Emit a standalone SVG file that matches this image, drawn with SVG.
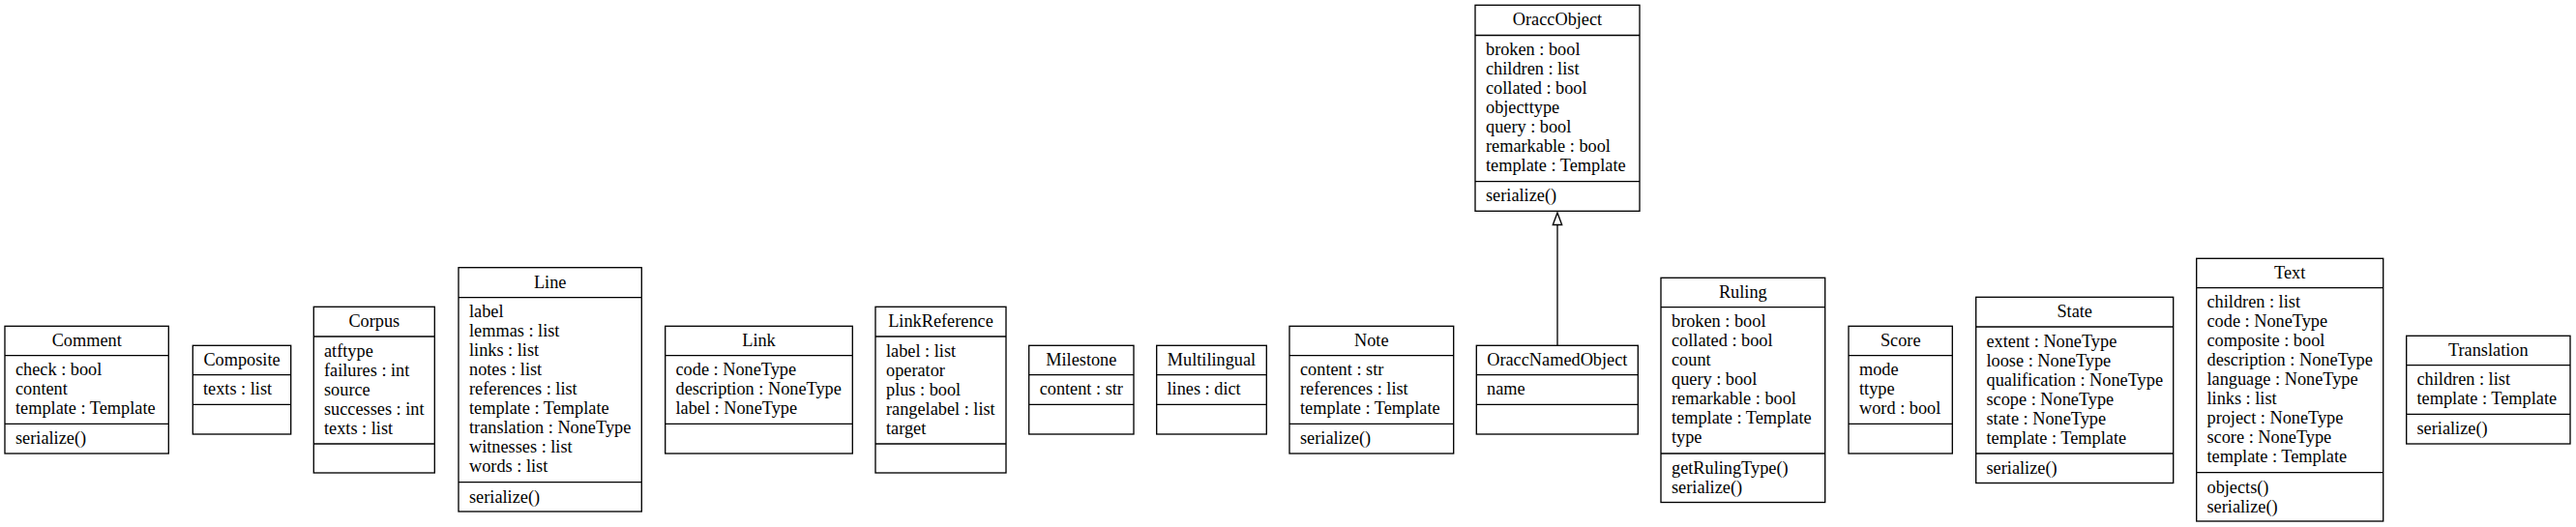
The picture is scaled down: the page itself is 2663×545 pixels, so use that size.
<svg xmlns="http://www.w3.org/2000/svg" width="2663" height="545" viewBox="0 0 2663 545">
<style>
.b{fill:#fff;stroke:#000;stroke-width:1.33}
.d{stroke:#000;stroke-width:1.33}
text{font-family:"Liberation Serif","Times New Roman",serif;font-size:18.3px;fill:#000}
.t{text-anchor:middle}
</style>
<rect width="2663" height="545" fill="#fff"/>
<g id="connectors">
<line class="d" x1="1610" y1="357.3" x2="1610" y2="232.5"/>
<path d="M1610,220 L1614.7,232.5 L1605.3,232.5 Z" fill="#fff" stroke="#000" stroke-width="1.33"/>
</g>
<g id="Comment">
<rect class="b" x="5" y="337.3" width="169.3" height="131.7"/>
<line class="d" x1="5" y1="367.7" x2="174.3" y2="367.7"/><line class="d" x1="5" y1="438.3" x2="174.3" y2="438.3"/>
<text class="t" x="89.7" y="358.3">Comment</text>
<text x="16" y="388.3">check : bool</text><text x="16" y="408.3">content</text><text x="16" y="428.3">template : Template</text>
<text x="16" y="459.1">serialize()</text>
</g>
<g id="Composite">
<rect class="b" x="199.3" y="357.3" width="101.4" height="91.7"/>
<line class="d" x1="199.3" y1="387.7" x2="300.7" y2="387.7"/><line class="d" x1="199.3" y1="418.3" x2="300.7" y2="418.3"/>
<text class="t" x="250" y="378.3">Composite</text>
<text x="210" y="408.3">texts : list</text>
</g>
<g id="Corpus">
<rect class="b" x="324.3" y="317.3" width="125" height="171.7"/>
<line class="d" x1="324.3" y1="348" x2="449.3" y2="348"/><line class="d" x1="324.3" y1="459" x2="449.3" y2="459"/>
<text class="t" x="386.8" y="338.3">Corpus</text>
<text x="335" y="368.6">atftype</text><text x="335" y="388.6">failures : int</text><text x="335" y="408.6">source</text><text x="335" y="428.6">successes : int</text><text x="335" y="448.6">texts : list</text>
</g>
<g id="Line">
<rect class="b" x="474" y="276.7" width="189.3" height="252.3"/>
<line class="d" x1="474" y1="307.7" x2="663.3" y2="307.7"/><line class="d" x1="474" y1="498.7" x2="663.3" y2="498.7"/>
<text class="t" x="568.7" y="297.7">Line</text>
<text x="485" y="328.3">label</text><text x="485" y="348.3">lemmas : list</text><text x="485" y="368.3">links : list</text><text x="485" y="388.3">notes : list</text><text x="485" y="408.3">references : list</text><text x="485" y="428.3">template : Template</text><text x="485" y="448.3">translation : NoneType</text><text x="485" y="468.3">witnesses : list</text><text x="485" y="488.3">words : list</text>
<text x="485" y="519.5">serialize()</text>
</g>
<g id="Link">
<rect class="b" x="687.7" y="337.3" width="193.6" height="131.7"/>
<line class="d" x1="687.7" y1="367.7" x2="881.3" y2="367.7"/><line class="d" x1="687.7" y1="438.3" x2="881.3" y2="438.3"/>
<text class="t" x="784.5" y="358.3">Link</text>
<text x="698.5" y="388.3">code : NoneType</text><text x="698.5" y="408.3">description : NoneType</text><text x="698.5" y="428.3">label : NoneType</text>
</g>
<g id="LinkReference">
<rect class="b" x="905" y="317.3" width="135" height="171.7"/>
<line class="d" x1="905" y1="348" x2="1040" y2="348"/><line class="d" x1="905" y1="459" x2="1040" y2="459"/>
<text class="t" x="972.5" y="338.3">LinkReference</text>
<text x="916" y="368.6">label : list</text><text x="916" y="388.6">operator</text><text x="916" y="408.6">plus : bool</text><text x="916" y="428.6">rangelabel : list</text><text x="916" y="448.6">target</text>
</g>
<g id="Milestone">
<rect class="b" x="1063.7" y="357.3" width="108.3" height="91.7"/>
<line class="d" x1="1063.7" y1="387.7" x2="1172" y2="387.7"/><line class="d" x1="1063.7" y1="418.3" x2="1172" y2="418.3"/>
<text class="t" x="1117.8" y="378.3">Milestone</text>
<text class="t" x="1117.8" y="408.3">content : str</text>
</g>
<g id="Multilingual">
<rect class="b" x="1195.7" y="357.3" width="113.6" height="91.7"/>
<line class="d" x1="1195.7" y1="387.7" x2="1309.3" y2="387.7"/><line class="d" x1="1195.7" y1="418.3" x2="1309.3" y2="418.3"/>
<text class="t" x="1252.5" y="378.3">Multilingual</text>
<text x="1206.5" y="408.3">lines : dict</text>
</g>
<g id="Note">
<rect class="b" x="1333" y="337.3" width="169.7" height="131.7"/>
<line class="d" x1="1333" y1="367.7" x2="1502.7" y2="367.7"/><line class="d" x1="1333" y1="438.3" x2="1502.7" y2="438.3"/>
<text class="t" x="1417.8" y="358.3">Note</text>
<text x="1344" y="388.3">content : str</text><text x="1344" y="408.3">references : list</text><text x="1344" y="428.3">template : Template</text>
<text x="1344" y="459.1">serialize()</text>
</g>
<g id="OraccNamedObject">
<rect class="b" x="1526.3" y="357.3" width="167" height="91.7"/>
<line class="d" x1="1526.3" y1="387.7" x2="1693.3" y2="387.7"/><line class="d" x1="1526.3" y1="418.3" x2="1693.3" y2="418.3"/>
<text class="t" x="1609.8" y="378.3">OraccNamedObject</text>
<text x="1537" y="408.3">name</text>
</g>
<g id="OraccObject">
<rect class="b" x="1525" y="5.3" width="170" height="213"/>
<line class="d" x1="1525" y1="36.5" x2="1695" y2="36.5"/><line class="d" x1="1525" y1="187.6" x2="1695" y2="187.6"/>
<text class="t" x="1610" y="26.3">OraccObject</text>
<text x="1536" y="56.9">broken : bool</text><text x="1536" y="76.9">children : list</text><text x="1536" y="96.9">collated : bool</text><text x="1536" y="116.9">objecttype</text><text x="1536" y="136.9">query : bool</text><text x="1536" y="156.9">remarkable : bool</text><text x="1536" y="176.9">template : Template</text>
<text x="1536" y="208.4">serialize()</text>
</g>
<g id="Ruling">
<rect class="b" x="1717" y="287.3" width="169.7" height="232.2"/>
<line class="d" x1="1717" y1="317.7" x2="1886.7" y2="317.7"/><line class="d" x1="1717" y1="469" x2="1886.7" y2="469"/>
<text class="t" x="1801.8" y="308.3">Ruling</text>
<text x="1728" y="338.3">broken : bool</text><text x="1728" y="358.3">collated : bool</text><text x="1728" y="378.3">count</text><text x="1728" y="398.3">query : bool</text><text x="1728" y="418.3">remarkable : bool</text><text x="1728" y="438.3">template : Template</text><text x="1728" y="458.3">type</text>
<text x="1728" y="489.8">getRulingType()</text><text x="1728" y="509.8">serialize()</text>
</g>
<g id="Score">
<rect class="b" x="1911" y="337.3" width="107.3" height="131.7"/>
<line class="d" x1="1911" y1="367.7" x2="2018.3" y2="367.7"/><line class="d" x1="1911" y1="438.3" x2="2018.3" y2="438.3"/>
<text class="t" x="1964.7" y="358.3">Score</text>
<text x="1922" y="388.3">mode</text><text x="1922" y="408.3">ttype</text><text x="1922" y="428.3">word : bool</text>
</g>
<g id="State">
<rect class="b" x="2042.7" y="307.3" width="204" height="192.2"/>
<line class="d" x1="2042.7" y1="338" x2="2246.7" y2="338"/><line class="d" x1="2042.7" y1="469" x2="2246.7" y2="469"/>
<text class="t" x="2144.7" y="328.3">State</text>
<text x="2053.5" y="358.6">extent : NoneType</text><text x="2053.5" y="378.6">loose : NoneType</text><text x="2053.5" y="398.6">qualification : NoneType</text><text x="2053.5" y="418.6">scope : NoneType</text><text x="2053.5" y="438.6">state : NoneType</text><text x="2053.5" y="458.6">template : Template</text>
<text x="2053.5" y="489.8">serialize()</text>
</g>
<g id="Text">
<rect class="b" x="2270.7" y="267.3" width="193" height="271.7"/>
<line class="d" x1="2270.7" y1="297.7" x2="2463.7" y2="297.7"/><line class="d" x1="2270.7" y1="488.7" x2="2463.7" y2="488.7"/>
<text class="t" x="2367.2" y="288.3">Text</text>
<text x="2281.5" y="318.3">children : list</text><text x="2281.5" y="338.3">code : NoneType</text><text x="2281.5" y="358.3">composite : bool</text><text x="2281.5" y="378.3">description : NoneType</text><text x="2281.5" y="398.3">language : NoneType</text><text x="2281.5" y="418.3">links : list</text><text x="2281.5" y="438.3">project : NoneType</text><text x="2281.5" y="458.3">score : NoneType</text><text x="2281.5" y="478.3">template : Template</text>
<text x="2281.5" y="509.5">objects()</text><text x="2281.5" y="529.5">serialize()</text>
</g>
<g id="Translation">
<rect class="b" x="2487.7" y="347.3" width="169.3" height="111.7"/>
<line class="d" x1="2487.7" y1="377.7" x2="2657" y2="377.7"/><line class="d" x1="2487.7" y1="428.3" x2="2657" y2="428.3"/>
<text class="t" x="2572.3" y="368.3">Translation</text>
<text x="2498.5" y="398.3">children : list</text><text x="2498.5" y="418.3">template : Template</text>
<text x="2498.5" y="449.1">serialize()</text>
</g>
</svg>
